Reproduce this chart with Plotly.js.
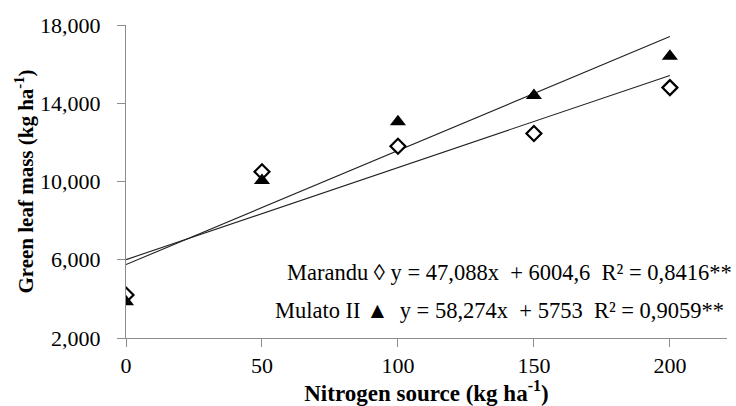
<!DOCTYPE html>
<html>
<head>
<meta charset="utf-8">
<script src="https://cdn.plot.ly/plotly-3.0.1.min.js"></script>
<style>html,body{margin:0;padding:0;background:#fff;}#chart{width:736px;height:406px;}</style>
</head>
<body>
<div id="chart"></div>
<script>
// Data
const nitrogen = [0, 50, 100, 150, 200];
const marandu = [4200, 10500, 11800, 12450, 14800];
const mulato = [3850, 10050, 13050, 14400, 16400];
const trendX = [0, 200];
const maranduTrend = [6005, 15422];
const mulatoTrend = [5753, 17408];
const xTicks = [0, 50, 100, 150, 200];
const yTicks = [2000, 6000, 10000, 14000, 18000];
const yTickText = ['2,000', '6,000', '10,000', '14,000', '18,000'];
const maranduLabel = 'Marandu \u25CA y = 47,088x \u00a0+ 6004,6 \u00a0R² = 0,8416**';
const mulatoLabel = 'Mulato II \u25B2 \u00a0y = 58,274x \u00a0+ 5753 \u00a0R² = 0,9059**';

const serif = 'Liberation Serif, Times New Roman, serif';

const traces = [
  {x: trendX, y: mulatoTrend, mode: 'lines', line: {color: '#222', width: 1.1}, hoverinfo: 'skip', showlegend: false},
  {x: trendX, y: maranduTrend, mode: 'lines', line: {color: '#222', width: 1.1}, hoverinfo: 'skip', showlegend: false},
  {x: nitrogen, y: marandu, mode: 'markers', name: 'Marandu',
   marker: {symbol: 'diamond', size: 11.5, color: '#fff', line: {color: '#000', width: 2.2}}},
  {x: nitrogen, y: mulato, mode: 'markers', name: 'Mulato II',
   marker: {symbol: 'triangle-up', size: 14, color: '#000', line: {width: 0}}}
];

const layout = {
  width: 736, height: 406,
  margin: {l: 126, r: 9, t: 25, b: 68},
  paper_bgcolor: '#fff', plot_bgcolor: '#fff',
  showlegend: false,
  font: {family: serif, size: 22, color: '#000'},
  xaxis: {
    range: [0, 221], tickvals: xTicks, ticktext: xTicks.map(String),
    showgrid: false, zeroline: false,
    showline: true, linecolor: '#8c8c8c', linewidth: 1,
    ticks: 'outside', ticklen: 8, tickcolor: '#8c8c8c', tickwidth: 1,
    tickfont: {family: serif, size: 22, color: '#000'},
    title: {text: '<b>Nitrogen source (kg ha<sup>-1</sup>)</b>', font: {family: serif, size: 23, color: '#000'}, standoff: 3}
  },
  yaxis: {
    range: [2000, 18000], tickvals: yTicks, ticktext: yTickText,
    showgrid: false, zeroline: false,
    showline: true, linecolor: '#8c8c8c', linewidth: 1,
    ticks: 'outside', ticklen: 8, tickcolor: '#8c8c8c', tickwidth: 1,
    ticklabelstandoff: 12,
    tickfont: {family: serif, size: 22, color: '#000'},
    title: {text: '<b>Green leaf mass (kg ha<sup>-1</sup>)</b>', font: {family: serif, size: 21, color: '#000'}, standoff: 0}
  },
  annotations: [
    {text: maranduLabel, xref: 'paper', yref: 'paper', x: 1.012, y: 0.208, xanchor: 'right', yanchor: 'middle', showarrow: false,
     font: {family: serif, size: 22.5, color: '#000'}},
    {text: mulatoLabel, xref: 'paper', yref: 'paper', x: 0.998, y: 0.087, xanchor: 'right', yanchor: 'middle', showarrow: false,
     font: {family: serif, size: 22.5, color: '#000'}}
  ]
};

Plotly.newPlot('chart', traces, layout, {displayModeBar: false, staticPlot: true});
</script>
</body>
</html>
